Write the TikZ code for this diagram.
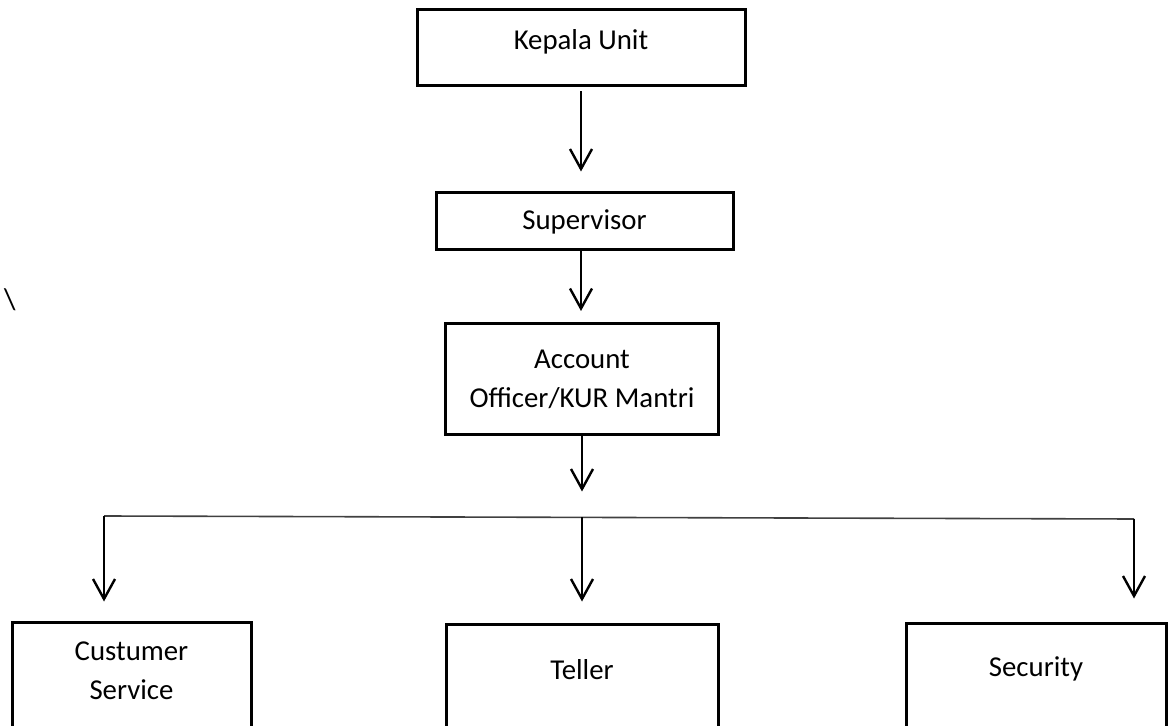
\documentclass[tikz,border=0pt]{standalone}
\usepackage{fontspec}
\setmainfont{Carlito}
\usetikzlibrary{arrows.meta}

\tikzset{
  unitbox/.style={draw, line width=1.5pt, inner sep=2pt, align=center,
    font=\fontsize{14.4}{19.5}\selectfont},
  downarrow/.style={line width=1.2pt, -{Straight Barb[length=10pt,width=11pt,line width=1.2pt]}},
}

\begin{document}
\begin{tikzpicture}[x=0.5pt,y=0.5pt,yscale=-1,xscale=1]
\clip (0,0) rectangle (1172,726);
% Shape: Rectangle
\node [unitbox, minimum width=164pt, minimum height=38pt, text depth=8pt] (kepala) at (581,48) {Kepala Unit};
% Shape: Rectangle
\node [unitbox, minimum width=148.5pt, minimum height=28.5pt] (sup) at (584.5,221.5) {Supervisor};
% Shape: Rectangle
\node [unitbox, minimum width=136.5pt, minimum height=55.5pt] (ao) at (582,379) {Account\\Officer/KUR Mantri};
% Shape: Rectangle
\node [unitbox, minimum width=119.5pt, minimum height=55pt, text depth=6pt] (cs) at (131.5,677) {Custumer\\Service};
% Shape: Rectangle
\node [unitbox, minimum width=136pt, minimum height=55pt, text depth=9pt] (teller) at (582,679) {Teller};
% Shape: Rectangle
\node [unitbox, minimum width=130pt, minimum height=55pt, text depth=11pt] (sec) at (1036,678) {Security};
% Text Node
\node [font=\fontsize{15}{17}\selectfont, inner sep=0pt] (slash) at (10,300) {\textbackslash};
% Straight Lines
\coordinate (busL) at (104,516);
\coordinate (busM) at (582,517.5);
\coordinate (busR) at (1134,519);
\draw [line width=0.8pt, color=black!75] (busL) -- (busR) ;
% Arrows
\draw [downarrow, shorten <=2pt, shorten >=10pt] (kepala.south) -- (kepala.south |- sup.north) ;
\draw [downarrow, shorten >=5.5pt] (kepala.south |- sup.south) -- (kepala.south |- ao.north) ;
\draw [downarrow, shorten >=13pt] (ao.south) -- (busM) ;
\draw [downarrow, shorten >=9.5pt] (busL) -- (busL |- cs.north) ;
\draw [downarrow, shorten >=10.5pt] (busM) -- (busM |- teller.north) ;
\draw [downarrow, shorten >=11.5pt] (busR) -- (busR |- sec.north) ;
\end{tikzpicture}
\end{document}
